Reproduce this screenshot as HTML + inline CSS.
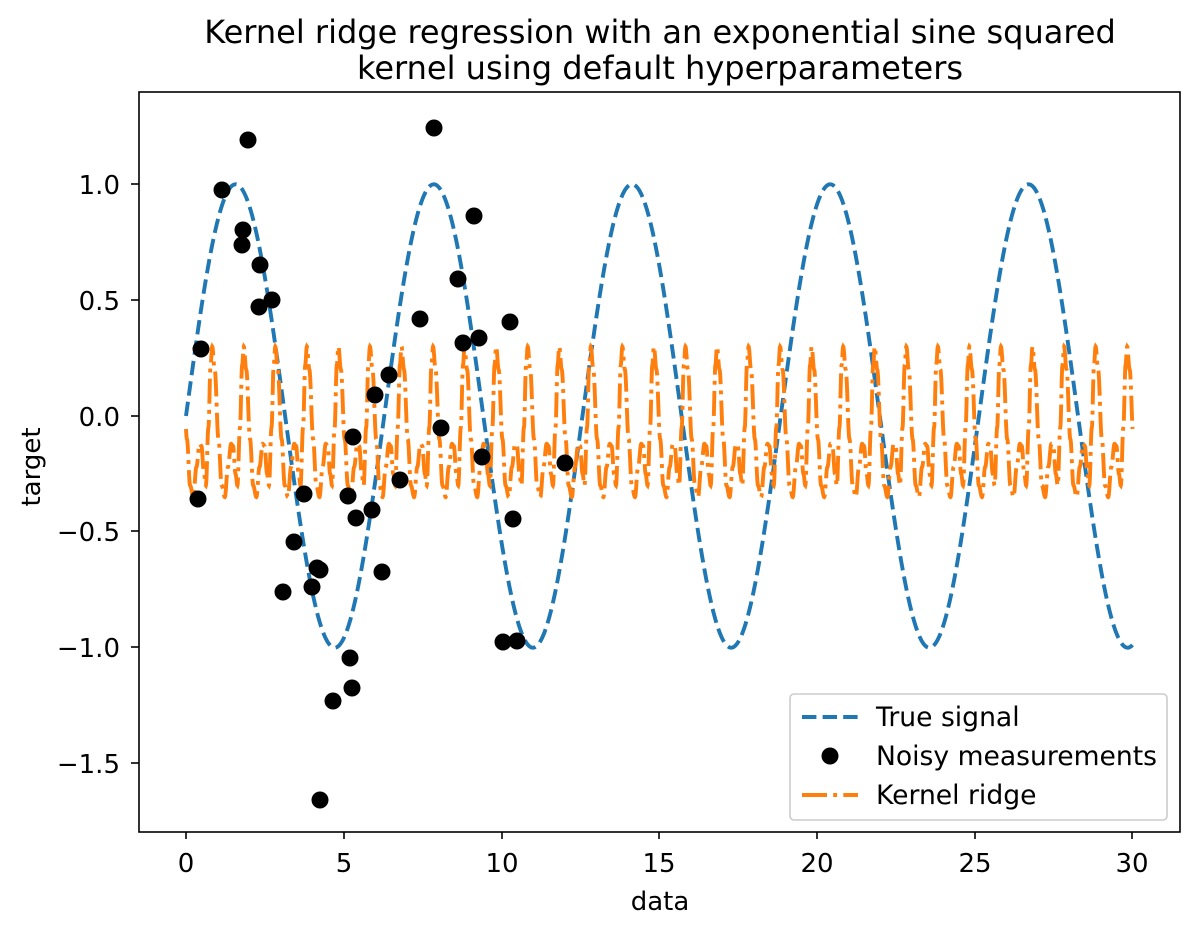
<!DOCTYPE html>
<html><head><meta charset="utf-8"><style>
body{margin:0;background:#fff}
svg{display:block;font-family:"DejaVu Sans","Liberation Sans",sans-serif}
</style></head><body>
<svg id="s" width="1199" height="934" viewBox="0 0 1199 934" xmlns="http://www.w3.org/2000/svg">
<rect width="1199" height="934" fill="#fff"/>
<defs><clipPath id="c"><rect x="139" y="92" width="1041" height="740"/></clipPath></defs>
<g clip-path="url(#c)">
<path id="ts" fill="none" stroke="#1f77b4" stroke-width="3.9" stroke-dasharray="14.4,6.2"/>
<path id="kr" fill="none" stroke="#ff7f0e" stroke-width="3.9" stroke-dasharray="25,6.2,3.9,6.2"/>
<g id="pts" fill="#000"></g>
</g>
<rect x="139" y="92" width="1041" height="740" fill="none" stroke="#000" stroke-width="1.6"/>
<g stroke="#000" stroke-width="1.6">
<line x1="186" y1="832" x2="186" y2="839"/><line x1="344" y1="832" x2="344" y2="839"/><line x1="502" y1="832" x2="502" y2="839"/><line x1="659" y1="832" x2="659" y2="839"/><line x1="817" y1="832" x2="817" y2="839"/><line x1="975" y1="832" x2="975" y2="839"/><line x1="1132" y1="832" x2="1132" y2="839"/>
<line x1="131" y1="184" x2="139" y2="184"/><line x1="131" y1="300" x2="139" y2="300"/><line x1="131" y1="416" x2="139" y2="416"/><line x1="131" y1="531" x2="139" y2="531"/><line x1="131" y1="647" x2="139" y2="647"/><line x1="131" y1="763" x2="139" y2="763"/>
</g>
<g font-size="26" text-anchor="middle" fill="#000">
<text x="186" y="872">0</text><text x="344" y="872">5</text><text x="502" y="872">10</text><text x="659" y="872">15</text><text x="817" y="872">20</text><text x="975" y="872">25</text><text x="1132" y="872">30</text>
</g>
<g font-size="26" text-anchor="end" fill="#000">
<text x="120" y="194">1.0</text><text x="120" y="310">0.5</text><text x="120" y="426">0.0</text><text x="120" y="541">−0.5</text><text x="120" y="657">−1.0</text><text x="120" y="773">−1.5</text>
</g>
<text x="660" y="910" font-size="26" text-anchor="middle">data</text>
<text x="40" y="467" font-size="26" text-anchor="middle" transform="rotate(-90 40 467)">target</text>
<text x="660" y="43" font-size="32" text-anchor="middle">Kernel ridge regression with an exponential sine squared</text>
<text x="660" y="79" font-size="32" text-anchor="middle">kernel using default hyperparameters</text>
<rect x="790" y="694" width="377" height="126" rx="4" fill="#fff" fill-opacity="0.8" stroke="#ccc" stroke-width="1.6"/>
<line x1="802" y1="717" x2="858" y2="717" stroke="#1f77b4" stroke-width="3.9" stroke-dasharray="14.4,6.2"/>
<circle cx="830" cy="756" r="8.5" fill="#000"/>
<line x1="802" y1="795" x2="858" y2="795" stroke="#ff7f0e" stroke-width="3.9" stroke-dasharray="25,6.2,3.9,6.2"/>
<g font-size="26.6" fill="#000"><text x="876" y="726">True signal</text><text x="876" y="765">Noisy measurements</text><text x="876" y="804">Kernel ridge</text></g>
</svg>
<script>
var X=function(x){return 186+x*31.55},Y=function(y){return 416-y*231.7};
var d="";for(var i=0;i<=2000;i++){var x=30*i/2000;d+=(i?"L":"M")+X(x).toFixed(2)+","+Y(Math.sin(x)).toFixed(2);}
document.getElementById("ts").setAttribute("d",d);
var kp=[[0,0.3],[0.08,0.2],[0.2,-0.1],[0.3,-0.3],[0.4,-0.35],[0.5,-0.22],[0.6,-0.12],[0.66,-0.13],[0.74,-0.25],[0.8,-0.3],[0.88,-0.05],[0.95,0.22],[1,0.3]];
function f(x){var p=((x-0.83)%1+1)%1;for(var j=0;j<kp.length-1;j++){if(p>=kp[j][0]&&p<=kp[j+1][0]){var t=(p-kp[j][0])/(kp[j+1][0]-kp[j][0]);t=(1-Math.cos(Math.PI*t))/2;return kp[j][1]+t*(kp[j+1][1]-kp[j][1]);}}return 0;}
d="";for(var i=0;i<=6000;i++){var x=30*i/6000;d+=(i?"L":"M")+X(x).toFixed(2)+","+Y(f(x)).toFixed(2);}
document.getElementById("kr").setAttribute("d",d);
var P=[[248,140],[222,190],[243,230],[242,245],[260,265],[272,300],[259,307],[201,349],[434,128],[474,216],[458,279],[420,319],[463,343],[479,338],[510,322],[389,375],[375,395],[441,428],[353,437],[400,480],[198,499],[304,494],[348,496],[372,510],[356,518],[513,519],[294,542],[317,568],[320,570],[382,572],[283,592],[312,587],[503,642],[517,641],[350,658],[352,688],[333,701],[320,800],[482,457],[565,463]];
var g=document.getElementById("pts"),h="";P.forEach(function(p){h+='<circle cx="'+p[0]+'" cy="'+p[1]+'" r="8.5"/>';});g.innerHTML=h;
</script>
</body></html>
